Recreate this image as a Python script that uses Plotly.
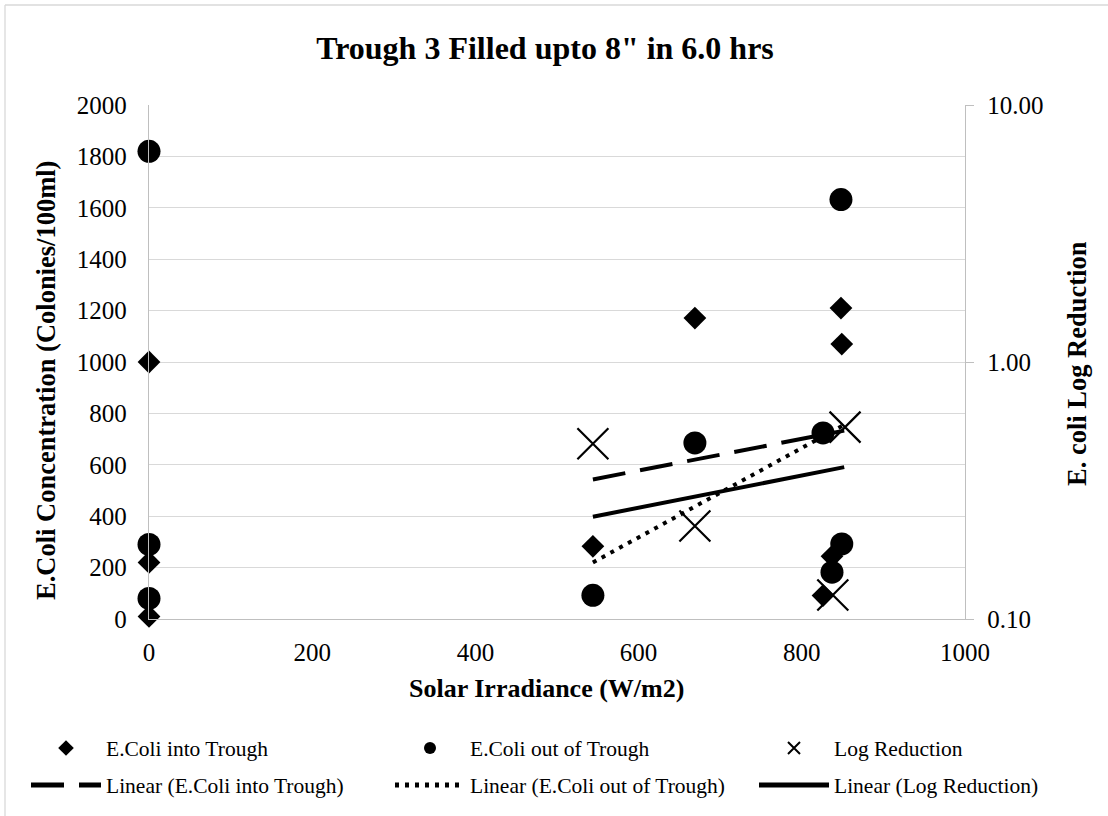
import plotly.graph_objects as go

# ---------------- data ----------------
into_x = [0, 0, 0, 544, 669, 826, 837, 848, 849]
into_y = [1000, 220, 10, 283, 1171, 91, 244, 1210, 1070]

out_x = [0, 0, 0, 544, 669, 826, 837, 848, 849]
out_y = [1820, 290, 80, 92, 685, 724, 182, 1632, 292]

logred_x = [544, 669, 838, 853]
logred_y = [0.481, 0.230, 0.124, 0.558]

trend_x = [544, 852]
trend_into = [543, 733]
trend_out = [220, 756]
trend_log = [0.25, 0.39]

y_ticks_right = [0.1, 1, 10]
y_ticktext_right = ["0.10", "1.00", "10.00"]

# ---------------- layout geometry ----------------
W, H = 1108, 816
PL, PR, PT, PB = 149, 965, 105, 619  # plot area in pixels

def px(x):
    return (x - PL) / (PR - PL)

def py(y):
    return (PB - y) / (PB - PT)

FONT = "Liberation Serif, Times New Roman, serif"
GRID = "#d9d9d9"
AXIS = "#bfbfbf"

fig = go.Figure()

fig.add_trace(go.Scatter(
    x=into_x, y=into_y, mode="markers", name="E.Coli into Trough",
    marker=dict(symbol="diamond", size=17.5, color="black"),
    cliponaxis=False, legend="legend", legendgroup="a1"))
fig.add_trace(go.Scatter(
    x=out_x, y=out_y, mode="markers", name="E.Coli out of Trough",
    marker=dict(symbol="circle", size=23, color="black"),
    cliponaxis=False, legend="legend2", legendgroup="b1"))
fig.add_trace(go.Scatter(
    x=logred_x, y=logred_y, mode="markers", name="Log Reduction", yaxis="y2",
    marker=dict(symbol="x-thin-open", size=31, color="black",
                line=dict(width=2.2, color="black")),
    cliponaxis=False, legend="legend3", legendgroup="c1"))

fig.add_trace(go.Scatter(
    x=trend_x, y=trend_into, mode="lines", name="Linear (E.Coli into Trough)",
    line=dict(color="black", width=4, dash="33px,15px"),
    legend="legend", legendgroup="a2"))
fig.add_trace(go.Scatter(
    x=trend_x, y=trend_out, mode="lines", name="Linear (E.Coli out of Trough)",
    line=dict(color="black", width=4, dash="4px,6px"),
    legend="legend2", legendgroup="b2"))
fig.add_trace(go.Scatter(
    x=trend_x, y=trend_log, mode="lines", name="Linear (Log Reduction)", yaxis="y2",
    line=dict(color="black", width=4), legend="legend3", legendgroup="c2"))

tickfont = dict(family=FONT, size=25, color="black")
legfont = dict(family=FONT, size=21.5, color="black")


def leg(x0):
    return dict(orientation="v", x=x0 / W, y=1 - 766.5 / H, xref="container",
                yref="container", xanchor="left", yanchor="middle",
                itemwidth=70, itemsizing="constant", tracegroupgap=6,
                font=legfont, bgcolor="rgba(0,0,0,0)", traceorder="grouped")


fig.update_layout(
    width=W, height=H, autosize=False,
    margin=dict(l=PL, r=W - PR, t=PT, b=H - PB, pad=0, autoexpand=False),
    paper_bgcolor="white", plot_bgcolor="white",
    font=dict(family=FONT, color="black"),
    title=dict(text="<b>Trough 3 Filled upto 8\" in 6.0 hrs</b>",
               x=545 / W, y=1 - 48 / H, xref="container", yref="container",
               xanchor="center", yanchor="middle",
               font=dict(family=FONT, size=32, color="black")),
    xaxis=dict(range=[0, 1000], tick0=0, dtick=200, showgrid=False,
               zeroline=False, showline=True, linecolor=AXIS, linewidth=1.3,
               ticks="", tickfont=tickfont, ticklabelstandoff=11),
    yaxis=dict(range=[0, 2000], tick0=0, dtick=200, showgrid=True,
               gridcolor=GRID, gridwidth=1.3, zeroline=False, showline=True,
               linecolor=AXIS, linewidth=1.3, ticks="", tickfont=tickfont,
               ticklabelstandoff=16),
    yaxis2=dict(overlaying="y", side="right", type="log", range=[-1, 1],
                tickvals=y_ticks_right, ticktext=y_ticktext_right,
                showgrid=False, zeroline=False, showline=True, linecolor=AXIS,
                linewidth=1.3, ticks="outside", ticklen=8, tickcolor=AXIS,
                tickwidth=1.3, tickfont=tickfont, ticklabelstandoff=8),
    legend=leg(26),
    legend2=leg(390),
    legend3=leg(754),
    annotations=[
        dict(text="<b>Solar Irradiance (W/m2)</b>", x=px(407), y=py(688),
             xref="paper", yref="paper", showarrow=False, xanchor="left",
             yanchor="middle", font=dict(family=FONT, size=26, color="black")),
        dict(text="<b>E.Coli Concentration (Colonies/100ml)</b>", x=px(46), y=py(381),
             xref="paper", yref="paper", showarrow=False, textangle=-90,
             xanchor="center", yanchor="middle",
             font=dict(family=FONT, size=26.5, color="black")),
        dict(text="<b>E. coli Log Reduction</b>", x=px(1077), y=py(364),
             xref="paper", yref="paper", showarrow=False, textangle=-90,
             xanchor="center", yanchor="middle",
             font=dict(family=FONT, size=26.5, color="black")),
    ],
    shapes=[
        dict(type="line", xref="paper", yref="paper", x0=px(5), x1=px(5),
             y0=py(5), y1=py(H + 10), line=dict(color=GRID, width=1.3)),
        dict(type="line", xref="paper", yref="paper", x0=px(5), x1=px(W + 10),
             y0=py(5), y1=py(5), line=dict(color=GRID, width=1.3)),
    ],
)

fig.write_html("out.html",
               config={"displayModeBar": False},
               post_script="document.body.style.margin='0px';"
                           "document.body.style.overflow='hidden';")
